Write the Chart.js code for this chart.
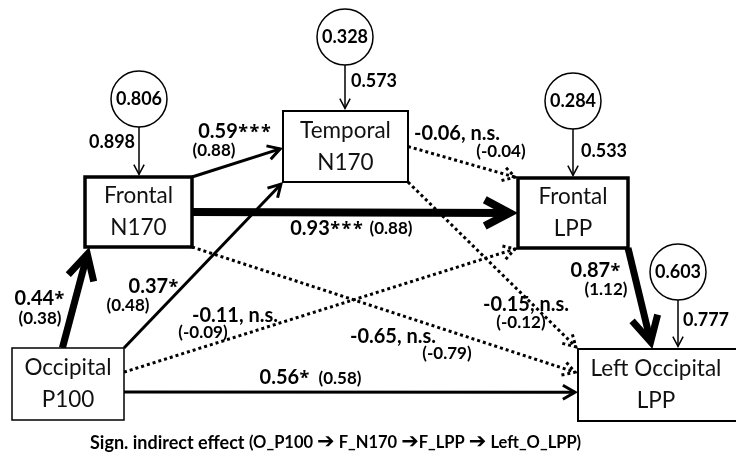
<!DOCTYPE html>
<html>
<head>
<meta charset="utf-8">
<script src="https://cdn.jsdelivr.net/npm/chart.js@4.4.0/dist/chart.umd.min.js"></script>
<style>
  html, body { margin: 0; padding: 0; background: #fff; }
  #wrap { width: 736px; height: 459px; position: relative; }
</style>
</head>
<body>
<div id="wrap"><canvas id="pathChart"></canvas></div>
<script>
// --- model values ---
const nodeNames = ['Occipital\nP100', 'Frontal\nN170', 'Temporal\nN170', 'Frontal\nLPP', 'Left Occipital\nLPP'];
const residualValues = ['0.806', '0.328', '0.284', '0.603'];
const residualLoadings = ['0.898', '0.573', '0.533', '0.777'];
const residualTargets = [1, 2, 3, 4];
const pathFrom = [0, 0, 1, 1, 2, 2, 1, 0, 0, 3];
const pathTo = [1, 2, 2, 3, 3, 4, 4, 3, 4, 4];
const pathCoef = ['0.44*', '0.37*', '0.59***', '0.93***', '-0.06, n.s.', '-0.15, n.s.', '-0.65, n.s.', '-0.11, n.s.', '0.56*', '0.87*'];
const pathStd = ['(0.38)', '(0.48)', '(0.88)', '(0.88)', '(-0.04)', '(-0.12)', '(-0.79)', '(-0.09)', '(0.58)', '(1.12)'];
const pathSignificant = [true, true, true, true, false, false, false, false, true, true];
const titleMain = 'Sign. indirect effect ';
const titlePath = ['(O_P100 ', '\u2794', ' F_N170 ', '\u2794', 'F_LPP ', '\u2794', ' Left_O_LPP)'];

// --- layout (canvas units, y downwards) ---
const boxes = [
    { x: 68, y: 384, w: 112, h: 72, lw: 1.5 },
    { x: 138.5, y: 212, w: 107, h: 70, lw: 3.5 },
    { x: 345.5, y: 146.5, w: 125, h: 71, lw: 2 },
    { x: 573, y: 213, w: 110, h: 70, lw: 3.5 },
    { x: 658, y: 385, w: 160, h: 72, lw: 2 }
];
const circles = [{ x: 139, y: 99 }, { x: 345, y: 37 }, { x: 573, y: 101 }, { x: 678, y: 272 }];
const circleR = 28;
const loadingPos = [[112, 142], [374, 81], [604, 151], [706, 320]];
const fromAnchor = [[-0.1, -1], [1, -1], [1, -1], [1, 0], [1, 0], [1, 1], [1, 1], [1, -0.33], [1, 0.22], [1, 1]];
const toAnchor = [[-0.92, 1], [-1, 1], [-1, 0.04], [-1, 0], [-1, -1], [-1, -1], [-1, -0.33], [-1, 1], [-1, 0.2], [-0.07, -1]];
const pathWidth = [7, 3, 3, 8, 3, 3, 3, 3, 3, 7];
const coefPos = [[40, 299], [154, 287], [235, 132], [327, 229], [457, 134], [526, 305], [393, 337], [235, 316], [285, 378], [596, 271]];
const stdPos = [[40, 319], [128, 306], [214, 151], [391, 229], [501, 152], [521, 323], [447, 354], [203, 333], [340, 379], [606, 290]];

const FONT = 'Lato, "Open Sans", sans-serif';
const STAR_FONT = 'bold 18px "Open Sans", sans-serif';

function anchorPoint(i, a) {
    const b = boxes[i];
    return { x: b.x + a[0] * b.w / 2, y: b.y + a[1] * b.h / 2 };
}

function headSize(w) {
    if (w >= 6) return { len: 28, ang: 28 * Math.PI / 180 };
    if (w >= 2) return { len: 14, ang: 30 * Math.PI / 180 };
    return { len: 11, ang: 28 * Math.PI / 180 };
}

// shorten end so the mitred chevron tip lands on the anchor
function pullBack(p, q, w) {
    const hs = headSize(w);
    const dx = q.x - p.x, dy = q.y - p.y;
    const d = Math.hypot(dx, dy);
    const m = (w / 2) / Math.sin(hs.ang);
    return { x: q.x - dx / d * m, y: q.y - dy / d * m };
}

const arrows = [];
const datasets = [];

pathFrom.forEach((f, i) => {
    const p = anchorPoint(f, fromAnchor[i]);
    const q = pullBack(p, anchorPoint(pathTo[i], toAnchor[i]), pathWidth[i]);
    arrows.push({ p, q, w: pathWidth[i], dotted: !pathSignificant[i] });
    datasets.push({
        data: [p, q],
        showLine: true,
        borderColor: '#000',
        borderWidth: pathWidth[i],
        borderDash: pathSignificant[i] ? [] : [3, 3],
        borderCapStyle: 'butt',
        pointRadius: 0,
        order: 2
    });
});

residualTargets.forEach((t, i) => {
    const c = circles[i];
    const p = { x: c.x, y: c.y };
    const q = pullBack(p, { x: c.x, y: boxes[t].y - boxes[t].h / 2 - 1 }, 1.5);
    arrows.push({ p, q, w: 1.5, dotted: false });
    datasets.push({
        data: [p, q],
        showLine: true,
        borderColor: '#000',
        borderWidth: 1.5,
        pointRadius: 0,
        order: 2
    });
});

datasets.push({
    data: circles.map(c => ({ x: c.x, y: c.y })),
    showLine: false,
    pointRadius: circleR,
    pointBackgroundColor: '#fff',
    pointBorderColor: '#000',
    pointBorderWidth: 1.5,
    order: 0
});

// coefficient text with the significance stars set in a slightly bigger face
function drawCoef(ctx, text, cx, cy) {
    const m = text.match(/^([^*]*)(\**)$/);
    const num = m ? m[1] : text, stars = m ? m[2] : '';
    ctx.font = 'bold 20px ' + FONT;
    const w1 = ctx.measureText(num).width;
    ctx.font = STAR_FONT;
    const w2 = stars ? ctx.measureText(stars).width + stars.length * 1.5 : 0;
    let x = cx - (w1 + w2) / 2;
    ctx.textAlign = 'left';
    ctx.font = 'bold 20px ' + FONT;
    ctx.fillText(num, x, cy);
    x += w1;
    ctx.font = STAR_FONT;
    for (const s of stars) {
        ctx.fillText(s, x + 0.5, cy + 1);
        x += ctx.measureText(s).width + 1.5;
    }
    ctx.textAlign = 'center';
}

const diagramPlugin = {
    id: 'diagram',
    afterDatasetsDraw(chart) {
        const ctx = chart.ctx;
        const sx = v => chart.scales.x.getPixelForValue(v);
        const sy = v => chart.scales.y.getPixelForValue(v);
        ctx.save();

        // arrow heads
        arrows.forEach(a => {
            const hs = headSize(a.w);
            const tx = sx(a.q.x), ty = sy(a.q.y);
            const th = Math.atan2(ty - sy(a.p.y), tx - sx(a.p.x));
            ctx.beginPath();
            ctx.moveTo(tx - hs.len * Math.cos(th - hs.ang), ty - hs.len * Math.sin(th - hs.ang));
            ctx.lineTo(tx, ty);
            ctx.lineTo(tx - hs.len * Math.cos(th + hs.ang), ty - hs.len * Math.sin(th + hs.ang));
            ctx.lineWidth = a.w;
            ctx.lineJoin = 'miter';
            ctx.lineCap = 'butt';
            ctx.strokeStyle = '#000';
            ctx.setLineDash(a.dotted ? [3, 3] : []);
            ctx.stroke();
        });
        ctx.setLineDash([]);

        // boxes
        boxes.forEach((b, i) => {
            const x0 = sx(b.x - b.w / 2), y0 = sy(b.y - b.h / 2);
            const x1 = sx(b.x + b.w / 2), y1 = sy(b.y + b.h / 2);
            ctx.fillStyle = '#fff';
            ctx.fillRect(x0, y0, x1 - x0, y1 - y0);
            ctx.lineWidth = b.lw;
            ctx.strokeStyle = '#000';
            ctx.strokeRect(x0, y0, x1 - x0, y1 - y0);
            ctx.fillStyle = '#111';
            ctx.font = '22.5px ' + FONT;
            ctx.textAlign = 'center';
            ctx.textBaseline = 'middle';
            const lines = nodeNames[i].split('\n');
            const cx = sx(i === 4 ? 656 : b.x);
            ctx.fillText(lines[0], cx, sy(b.y) - 16);
            ctx.fillText(lines[1], cx, sy(b.y) + 16);
        });

        ctx.fillStyle = '#000';
        ctx.textAlign = 'center';
        ctx.textBaseline = 'middle';

        // residual values in circles and loadings
        ctx.font = 'bold 18px ' + FONT;
        circles.forEach((c, i) => ctx.fillText(residualValues[i], sx(c.x), sy(c.y)));
        loadingPos.forEach((p, i) => ctx.fillText(residualLoadings[i], sx(p[0]), sy(p[1])));

        // path coefficients
        pathCoef.forEach((t, i) => {
            drawCoef(ctx, t, sx(coefPos[i][0]), sy(coefPos[i][1]));
            ctx.font = 'bold 17px ' + FONT;
            ctx.fillText(pathStd[i], sx(stdPos[i][0]), sy(stdPos[i][1]));
        });

        // caption
        ctx.textAlign = 'left';
        ctx.font = 'bold 18px ' + FONT;
        let x = 90;
        ctx.fillText(titleMain, x, 443);
        x += ctx.measureText(titleMain).width;
        titlePath.forEach(s => {
            ctx.font = s === '\u2794' ? 'bold 21px "DejaVu Sans", sans-serif' : 'bold 16.5px ' + FONT;
            ctx.fillText(s, x, 443);
            x += ctx.measureText(s).width;
        });

        ctx.restore();
    }
};

new Chart(document.getElementById('pathChart'), {
    type: 'scatter',
    data: { datasets: datasets },
    options: {
        responsive: true,
        maintainAspectRatio: false,
        animation: false,
        layout: { padding: 0, autoPadding: false },
        plugins: { legend: { display: false }, tooltip: { enabled: false } },
        scales: {
            x: { type: 'linear', min: 0, max: 736, display: false },
            y: { type: 'linear', min: 0, max: 459, reverse: true, display: false }
        }
    },
    plugins: [diagramPlugin]
});
</script>
</body>
</html>
